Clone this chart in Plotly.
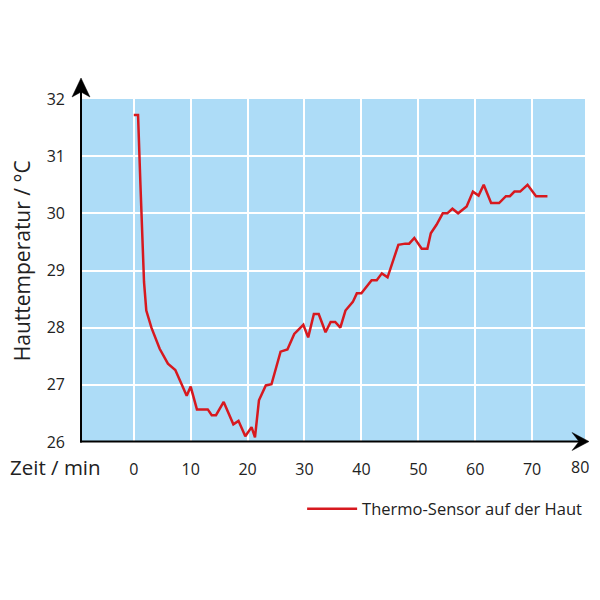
import plotly.graph_objects as go

zeit = [0, 0.75, 1.17, 1.5, 1.8, 2.2, 3.1, 4.55, 6.0, 7.3, 9.3, 10.0, 11.1, 13.0,
        13.7, 14.45, 15.8, 17.5, 18.4, 19.6, 20.7, 21.3, 22.0, 23.2, 24.2, 25.8,
        27.0, 28.2, 29.8, 30.65, 31.65, 32.5, 33.7, 34.6, 35.4, 36.3, 37.2, 38.5,
        39.2, 40.0, 41.8, 42.7, 43.6, 44.6, 46.5, 47.7, 48.4, 49.3, 50.6, 51.6,
        52.2, 53.2, 54.3, 55.1, 56.0, 57.0, 58.5, 59.6, 60.6, 61.5, 62.8, 64.2,
        65.4, 66.1, 66.9, 67.9, 69.2, 70.7, 72.7]
temperatur = [31.72, 31.72, 30.5, 29.5, 28.8, 28.3, 28.0, 27.63, 27.37, 27.26,
              26.81, 26.97, 26.57, 26.57, 26.47, 26.47, 26.7, 26.31, 26.37, 26.1,
              26.26, 26.08, 26.73, 26.99, 27.01, 27.58, 27.62, 27.89, 28.05, 27.83,
              28.24, 28.24, 27.92, 28.1, 28.1, 28.0, 28.3, 28.45, 28.6, 28.6, 28.83,
              28.83, 28.95, 28.88, 29.45, 29.47, 29.47, 29.57, 29.38, 29.38, 29.65,
              29.8, 30.0, 30.0, 30.08, 30.0, 30.12, 30.38, 30.31, 30.5, 30.18, 30.18,
              30.3, 30.3, 30.38, 30.38, 30.5, 30.3, 30.3]

x_ticks = [0, 10, 20, 30, 40, 50, 60, 70]
y_ticks = [26, 27, 28, 29, 30, 31, 32]

FONT = "Open Sans"
BLUE = "#addcf7"
RED = "#d7191f"
TXT = "#222"

# page body adds 8px on each side; plot area in screen pixels
OFF = 8
SL, ST, W, H = 82, 99, 505, 343
FW = 600 - 2 * OFF
FH = 600 - 2 * OFF


def px(x):
    return (x - SL) / W


def py(y):
    return (ST + H - y) / H


fig = go.Figure()
fig.add_trace(go.Scatter(
    x=zeit, y=temperatur, mode="lines",
    line=dict(color=RED, width=2.5),
    name="Thermo-Sensor auf der Haut",
))

fig.update_layout(
    width=FW, height=FH,
    margin=dict(l=SL - OFF, r=FW - (SL - OFF) - W, t=ST - OFF, b=FH - (ST - OFF) - H),
    paper_bgcolor="white",
    plot_bgcolor=BLUE,
    font=dict(family=FONT, size=16, color=TXT),
    showlegend=True,
    legend=dict(
        x=px(303), y=py(509), xanchor="left", yanchor="middle",
        font=dict(size=16.5, color=TXT), bgcolor="rgba(0,0,0,0)",
        itemwidth=50,
    ),
)

fig.update_xaxes(
    range=[-9.1, 79.3], tickvals=x_ticks, ticktext=[str(v) for v in x_ticks],
    showgrid=True, gridcolor="white", gridwidth=2,
    zeroline=False, showline=False, ticks="", ticklabelstandoff=16,
    tickfont=dict(size=16),
)
fig.update_yaxes(
    range=[26, 32], tickvals=y_ticks, ticktext=[str(v) for v in y_ticks],
    showgrid=True, gridcolor="white", gridwidth=2,
    zeroline=False, showline=False, ticks="", ticklabelstandoff=16,
    tickfont=dict(size=16),
)

# axis lines with arrow heads
ax_x = 81
ax_y = 441.5
tip_x = 591
fig.add_shape(type="line", xref="paper", yref="paper",
              x0=px(ax_x), y0=py(ax_y + 1), x1=px(ax_x), y1=py(90),
              line=dict(color="black", width=2))
fig.add_shape(type="line", xref="paper", yref="paper",
              x0=px(ax_x - 1), y0=py(ax_y), x1=px(tip_x - 8), y1=py(ax_y),
              line=dict(color="black", width=2))


def path(points):
    return "M " + " L ".join(f"{px(a)},{py(b)}" for a, b in points) + " Z"


fig.add_shape(type="path", xref="paper", yref="paper",
              path=path([(ax_x, 78), (ax_x + 9, 97), (ax_x, 92), (ax_x - 9, 97)]),
              fillcolor="black", line=dict(color="black", width=0.5))
fig.add_shape(type="path", xref="paper", yref="paper",
              path=path([(tip_x, ax_y), (tip_x - 17, ax_y - 9), (tip_x - 10, ax_y),
                         (tip_x - 17, ax_y + 9)]),
              fillcolor="black", line=dict(color="black", width=0.5))

# last tick label (beyond the axis range) and axis titles
fig.add_annotation(x=px(582), y=py(467), xref="paper", yref="paper", text="80",
                   xanchor="center", yanchor="middle",
                   showarrow=False, font=dict(size=16, color=TXT))
fig.add_annotation(x=px(55), y=py(467), xref="paper", yref="paper",
                   xanchor="center", yanchor="middle",
                   text="Zeit / min", showarrow=False,
                   font=dict(size=20.5, color=TXT))
fig.add_annotation(x=px(22), y=py(261), xref="paper", yref="paper",
                   xanchor="center", yanchor="middle",
                   text="Hauttemperatur / °C", textangle=-90, showarrow=False,
                   font=dict(size=21, color=TXT))

fig.write_html("out.html")
